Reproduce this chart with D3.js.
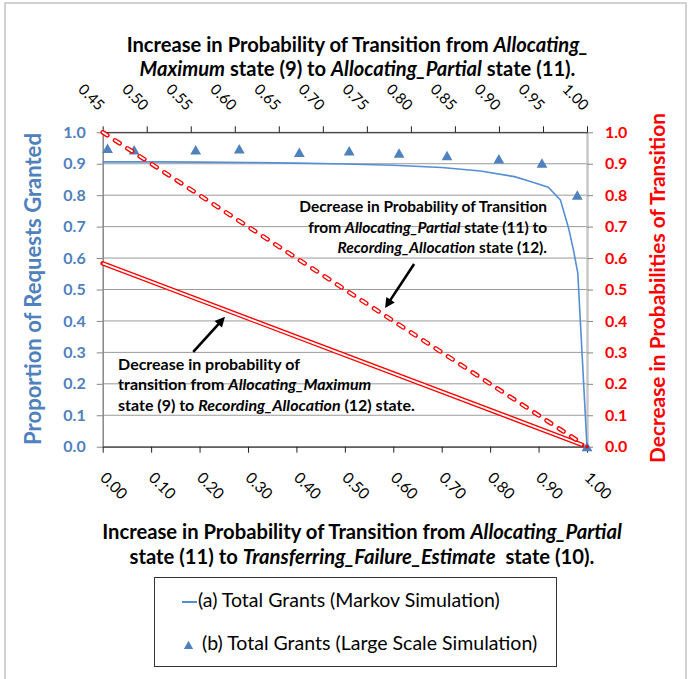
<!DOCTYPE html>
<html><head><meta charset="utf-8">
<script src="https://cdn.jsdelivr.net/npm/d3@7"></script>
<style>body{margin:0;background:#fff} svg{display:block} text{font-family:Lato,"Open Sans",sans-serif}</style>
</head><body><svg id="c" width="691" height="679"></svg>
<script>
// ---------------- data ----------------
const markovX = [0, 0.1, 0.2, 0.3, 0.4, 0.5, 0.6, 0.7, 0.78, 0.85, 0.88, 0.92, 0.945, 0.962, 0.972, 0.981, 1.0];
const markovY = [0.906, 0.906, 0.905, 0.904, 0.902, 0.899, 0.895, 0.888, 0.877, 0.859, 0.845, 0.825, 0.785, 0.695, 0.626, 0.552, 0.0];
const simX = [0.01, 0.065, 0.192, 0.282, 0.406, 0.509, 0.612, 0.711, 0.818, 0.907, 0.98, 1.0];
const simY = [0.949, 0.944, 0.944, 0.947, 0.936, 0.941, 0.934, 0.926, 0.915, 0.902, 0.80, 0.0];
const partialDecX = [0, 0.99];          // dashed: Allocating_Partial -> Recording_Allocation
const partialDecY = [1.0, 0.01];
const maximumDecX = [0, 0.99];          // solid: Allocating_Maximum -> Recording_Allocation
const maximumDecY = [0.583, 0.006];
const endDotX = [1.0];
const endDotY = [0.0];
const bottomTicks = [0.0, 0.1, 0.2, 0.3, 0.4, 0.5, 0.6, 0.7, 0.8, 0.9, 1.0];
const topTicks = [0.45, 0.50, 0.55, 0.60, 0.65, 0.70, 0.75, 0.80, 0.85, 0.90, 0.95, 1.00];
const leftTicks = [0.0, 0.1, 0.2, 0.3, 0.4, 0.5, 0.6, 0.7, 0.8, 0.9, 1.0];
const rightTicks = [0.0, 0.1, 0.2, 0.3, 0.4, 0.5, 0.6, 0.7, 0.8, 0.9, 1.0];
const legendLabels = ["(a) Total Grants (Markov Simulation)", "(b) Total Grants (Large Scale Simulation)"];
// arrows in data coordinates [tailX, tailY, tipX, tipY]
const arrows = [[0.187, 0.302, 0.2525, 0.413], [0.643, 0.581, 0.583, 0.441]];

// ---------------- layout ----------------
const svg = d3.select("#c");
const X0 = 102.7, X1 = 587, Y0 = 446.7, Y1 = 132.3;
const x = d3.scaleLinear().domain([0, 1]).range([X0, X1]);
const xTop = d3.scaleLinear().domain([0.45, 1]).range([X0, X1]);
const yL = d3.scaleLinear().domain([0, 1]).range([Y0, Y1]);
const yR = d3.scaleLinear().domain([0, 1]).range([Y0, Y1]);
const BLUE = "#4F81BD", LINEBLUE = "#558ED5", RED = "#FF0000";
const FONT = 'Lato, "Open Sans", sans-serif';

svg.append("rect").attr("width", 691).attr("height", 679).attr("fill", "#fff");
svg.append("rect").attr("x", 5).attr("y", 3).attr("width", 681).attr("height", 720)
  .attr("fill", "none").attr("stroke", "#c4c4c4").attr("stroke-width", 1.5);

// gridlines
svg.append("g").selectAll("line").data(leftTicks).join("line")
  .attr("x1", X0).attr("x2", X1).attr("y1", d => yL(d)).attr("y2", d => yL(d))
  .attr("stroke", "#9a9a9a").attr("stroke-width", 1);

// axes
const gL = svg.append("g").attr("transform", `translate(${X0},0)`)
  .call(d3.axisLeft(yL).tickValues(leftTicks).tickSize(6).tickSizeOuter(0).tickPadding(11).tickFormat(d3.format(".1f")));
gL.select(".domain").attr("stroke", "#868686").attr("stroke-width", 1.5);
gL.selectAll(".tick line").attr("stroke", "#868686");
gL.selectAll("text").attr("fill", BLUE).attr("font-weight", "bold").attr("font-size", 16).attr("font-family", FONT);

const gR = svg.append("g").attr("transform", `translate(${X1},0)`)
  .call(d3.axisRight(yR).tickValues(rightTicks).tickSize(6).tickSizeOuter(0).tickPadding(12).tickFormat(d3.format(".1f")));
gR.select(".domain").attr("stroke", "#c8c8c8").attr("stroke-width", 2.5);
gR.selectAll(".tick line").attr("stroke", "#868686");
gR.selectAll("text").attr("fill", RED).attr("font-weight", "bold").attr("font-size", 16).attr("font-family", FONT);

const gB = svg.append("g").attr("transform", `translate(0,${Y0})`)
  .call(d3.axisBottom(x).tickValues(bottomTicks).tickSize(6).tickSizeOuter(0).tickFormat(d3.format(".2f")));
gB.select(".domain").attr("stroke", "#222");
gB.selectAll(".tick line").attr("stroke", "#222");
gB.selectAll("text").attr("x", 0).attr("y", 0).attr("dy", null).attr("text-anchor", "start")
  .attr("transform", "translate(-4,32) rotate(45)")
  .attr("fill", "#000").attr("font-size", 15.5).attr("font-family", FONT);

const gT = svg.append("g").attr("transform", `translate(0,${Y1})`)
  .call(d3.axisTop(xTop).tickValues(topTicks).tickSize(6).tickSizeOuter(0).tickFormat(d3.format(".2f")));
gT.select(".domain").attr("stroke", "#222");
gT.selectAll(".tick line").attr("stroke", "#222");
gT.selectAll("text").attr("x", 0).attr("y", 0).attr("dy", null).attr("text-anchor", "end")
  .attr("transform", "translate(-5,-21) rotate(45)")
  .attr("fill", "#000").attr("font-size", 15).attr("font-family", FONT);

// ---------------- series ----------------
const markov = markovX.map((v, i) => [v, markovY[i]]);
svg.append("path").datum(markov)
  .attr("d", d3.line().x(d => x(d[0])).y(d => yL(d[1])))
  .attr("fill", "none").attr("stroke", LINEBLUE).attr("stroke-width", 1.6);

const sim = simX.map((v, i) => [v, simY[i]]);
svg.append("g").selectAll("path").data(sim).join("path")
  .attr("transform", d => `translate(${x(d[0])},${yL(d[1])})`)
  .attr("d", "M0,-4.9L5.4,4.6L-5.4,4.6Z").attr("fill", BLUE);

function doubleLine(xs, ys, dashed) {
  const pts = xs.map((v, i) => [v, ys[i]]);
  const ln = d3.line().x(d => x(d[0])).y(d => yR(d[1]));
  const outer = svg.append("path").datum(pts).attr("d", ln).attr("fill", "none")
    .attr("stroke", RED).attr("stroke-width", 4.6);
  const inner = svg.append("path").datum(pts).attr("d", ln).attr("fill", "none")
    .attr("stroke", "#fff").attr("stroke-width", 1.9);
  if (dashed) {
    outer.attr("stroke-dasharray", "5.5,9.2").attr("stroke-linecap", "round");
    inner.attr("stroke-dasharray", "5.5,9.2").attr("stroke-linecap", "round");
  } else {
    outer.attr("stroke-linecap", "round");
    inner.attr("stroke-linecap", "butt");
  }
}
doubleLine(maximumDecX, maximumDecY, false);
doubleLine(partialDecX, partialDecY, true);

svg.append("g").selectAll("circle").data(endDotX.map((v, i) => [v, endDotY[i]])).join("circle")
  .attr("cx", d => x(d[0])).attr("cy", d => yR(d[1])).attr("r", 1.8).attr("fill", RED);

// ---------------- text helpers ----------------
function rich(parent, px, py, parts, opts) {
  const t = parent.append("text").attr("x", px).attr("y", py)
    .attr("text-anchor", opts.anchor || "start")
    .attr("font-size", opts.size).attr("font-weight", opts.weight || "normal")
    .attr("fill", opts.fill || "#000").attr("font-family", FONT)
    .attr("xml:space", "preserve");
  parts.forEach(p => t.append("tspan").attr("font-style", p[1] ? "italic" : "normal").text(p[0]));
  return t;
}
function fitBlock(lines, refIdx, target) {
  const ref = lines[refIdx];
  const w = ref.node().getComputedTextLength();
  const fs = parseFloat(ref.attr("font-size")) * target / w;
  lines.forEach(l => l.attr("font-size", fs));
}

// top title
const tt = [
  rich(svg, 357.5, 52, [["Increase in Probability of Transition from ", 0], ["Allocating_", 1]], {anchor: "middle", size: 16, weight: "bold"}),
  rich(svg, 357.5, 76, [["Maximum", 1], [" state (9) to ", 0], ["Allocating_Partial", 1], [" state (11).", 0]], {anchor: "middle", size: 16, weight: "bold"})
];
fitBlock(tt, 0, 462);

// bottom title
const bt = [
  rich(svg, 362, 539, [["Increase in Probability of Transition from ", 0], ["Allocating_Partial", 1]], {anchor: "middle", size: 16, weight: "bold"}),
  rich(svg, 362, 564, [["state (11) to ", 0], ["Transferring_Failure_Estimate", 1], ["  state (10).", 0]], {anchor: "middle", size: 16, weight: "bold"})
];
fitBlock(bt, 0, 520);

// axis titles
const lt = rich(svg, 0, 0, [["Proportion of Requests Granted", 0]], {anchor: "middle", size: 18, weight: "bold", fill: BLUE})
  .attr("transform", "translate(33.5,289) rotate(-90)").attr("dy", "0.35em");
fitBlock([lt], 0, 312);
const rt = rich(svg, 0, 0, [["Decrease in Probabilities of Transition", 0]], {anchor: "middle", size: 18, weight: "bold", fill: RED})
  .attr("transform", "translate(658,288) rotate(-90)").attr("dy", "0.35em");
fitBlock([rt], 0, 350);

// annotations
const a1x = x(0.9175), a1y = yL(0.745);
const an1 = [
  rich(svg, a1x, a1y, [["Decrease in Probability of Transition", 0]], {anchor: "end", size: 13, weight: "bold"}),
  rich(svg, a1x, a1y + 20.5, [["from ", 0], ["Allocating_Partial", 1], [" state (11) to", 0]], {anchor: "end", size: 13, weight: "bold"}),
  rich(svg, a1x, a1y + 41, [["Recording_Allocation", 1], [" state (12).", 0]], {anchor: "end", size: 13, weight: "bold"})
];
fitBlock(an1, 0, 248);
const a2x = x(0.0318), a2y = yL(0.244);
const an2 = [
  rich(svg, a2x, a2y, [["Decrease in probability of", 0]], {size: 13, weight: "bold"}),
  rich(svg, a2x, a2y + 20.5, [["transition from ", 0], ["Allocating_Maximum", 1]], {size: 13, weight: "bold"}),
  rich(svg, a2x, a2y + 41, [["state (9) to ", 0], ["Recording_Allocation", 1], [" (12) state.", 0]], {size: 13, weight: "bold"})
];
fitBlock(an2, 2, 297);

// arrows
arrows.forEach(a => {
  const tx = x(a[0]), ty = yL(a[1]), hx = x(a[2]), hy = yL(a[3]);
  const dx = hx - tx, dy = hy - ty, L = Math.hypot(dx, dy), ux = dx / L, uy = dy / L;
  const hl = 10, hw = 5;
  const bx = hx - ux * hl, by = hy - uy * hl;
  svg.append("line").attr("x1", tx).attr("y1", ty).attr("x2", bx + ux * 2).attr("y2", by + uy * 2)
    .attr("stroke", "#000").attr("stroke-width", 2.6);
  svg.append("path").attr("d", `M${hx},${hy}L${bx - uy * hw},${by + ux * hw}L${bx + uy * hw},${by - ux * hw}Z`).attr("fill", "#000");
});

// legend
const lg = svg.append("g");
lg.append("rect").attr("x", 154.5).attr("y", 577.5).attr("width", 402).attr("height", 89)
  .attr("fill", "#fff").attr("stroke", "#333").attr("stroke-width", 1);
lg.append("line").attr("x1", 182).attr("x2", 197).attr("y1", 602).attr("y2", 602)
  .attr("stroke", LINEBLUE).attr("stroke-width", 2);
const l1 = rich(lg, 198, 607, [[legendLabels[0], 0]], {size: 15});
lg.append("path").attr("transform", "translate(188.5,645)").attr("d", "M0,-4.2L4.6,4L-4.6,4Z").attr("fill", BLUE);
const l2 = rich(lg, 202, 650, [[legendLabels[1], 0]], {size: 15});
fitBlock([l1, l2], 0, 302);
</script></body></html>
